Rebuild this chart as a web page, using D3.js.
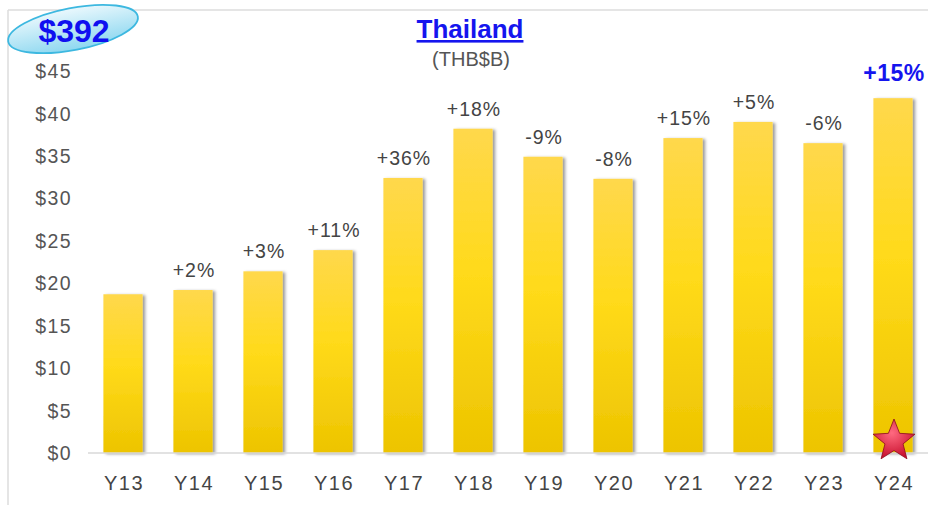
<!DOCTYPE html>
<html>
<head>
<meta charset="utf-8">
<script src="https://cdn.jsdelivr.net/npm/d3@7"></script>
<style>
  html, body { margin: 0; padding: 0; background: #fff; }
  svg { display: block; font-family: "Liberation Sans", Arial, sans-serif; }
</style>
</head>
<body>
<svg id="chart" width="928" height="505"></svg>
<script>
// Annual values, THB billions
const years = ["Y13","Y14","Y15","Y16","Y17","Y18","Y19","Y20","Y21","Y22","Y23","Y24"];
const values = [18.7, 19.2, 21.4, 23.9, 32.4, 38.2, 34.9, 32.3, 37.1, 39.0, 36.5, 41.8];
const growth = ["", "+2%", "+3%", "+11%", "+36%", "+18%", "-9%", "-8%", "+15%", "+5%", "-6%", "+15%"];
const yTicks = [0, 5, 10, 15, 20, 25, 30, 35, 40, 45];
const title = "Thailand";
const subtitle = "(THB$B)";
const totalLabel = "$392";

const svg = d3.select("#chart");
const W = 928, H = 505;
const FONT = "Liberation Sans, Arial, sans-serif";

const x = d3.scaleBand().domain(years).range([88, 928]).paddingInner(0.44).paddingOuter(0.22);
const y = d3.scaleLinear().domain([0, 45]).range([453, 71]);

const defs = svg.append("defs");

// bar fill: lighter gold at the top, deeper at the base
const bg = defs.append("linearGradient").attr("id", "barGrad").attr("x1", 0).attr("y1", 0).attr("x2", 0).attr("y2", 1);
bg.append("stop").attr("offset", "0%").attr("stop-color", "#FFD84C");
bg.append("stop").attr("offset", "45%").attr("stop-color", "#FFDA1A");
bg.append("stop").attr("offset", "100%").attr("stop-color", "#EDC400");

const sh = defs.append("filter").attr("id", "shadow").attr("x", "-20%").attr("y", "-5%").attr("width", "150%").attr("height", "115%");
sh.append("feDropShadow").attr("dx", 2.5).attr("dy", 1).attr("stdDeviation", 1.8).attr("flood-color", "#000").attr("flood-opacity", 0.4);

const eg = defs.append("linearGradient").attr("id", "ovalGrad").attr("x1", 0).attr("y1", 0).attr("x2", 0).attr("y2", 1);
eg.append("stop").attr("offset", "0%").attr("stop-color", "#EAF8FD");
eg.append("stop").attr("offset", "100%").attr("stop-color", "#8ED8F0");

const sg = defs.append("radialGradient").attr("id", "starGrad").attr("cx", "45%").attr("cy", "35%").attr("r", "65%");
sg.append("stop").attr("offset", "0%").attr("stop-color", "#FF6A80");
sg.append("stop").attr("offset", "100%").attr("stop-color", "#C8102E");

// frame lines
svg.append("line").attr("x1", 8).attr("x2", 8).attr("y1", 10).attr("y2", H).attr("stroke", "#dcdcdc").attr("stroke-width", 1.5);
svg.append("line").attr("x1", 8).attr("x2", W).attr("y1", 10).attr("y2", 10).attr("stroke", "#dcdcdc").attr("stroke-width", 1.5);

// y axis labels
const yAxis = d3.axisLeft(y).tickValues(yTicks).tickSize(0).tickPadding(0).tickFormat(d => "$" + d);
const ya = svg.append("g").attr("transform", "translate(72,0)").call(yAxis);
ya.select(".domain").remove();
ya.selectAll("text").attr("font-size", 19.5).attr("fill", "#555").attr("font-family", FONT)
  .attr("letter-spacing", 1.4).attr("dy", "0.34em");

// bars
svg.append("g").selectAll("rect").data(values).join("rect")
  .attr("x", (d, i) => x(years[i]))
  .attr("y", d => y(d))
  .attr("width", x.bandwidth())
  .attr("height", d => y(0) - y(d))
  .attr("fill", "url(#barGrad)")
  .attr("filter", "url(#shadow)");

// baseline
svg.append("line").attr("x1", 88).attr("x2", W).attr("y1", y(0)).attr("y2", y(0)).attr("stroke", "#d9d9d9").attr("stroke-width", 1.5);

// x axis labels
const xAxis = d3.axisBottom(x).tickSize(0).tickPadding(0);
const xa = svg.append("g").attr("transform", "translate(1,474)").call(xAxis);
xa.select(".domain").remove();
xa.selectAll("text").attr("font-size", 20).attr("fill", "#444").attr("font-family", FONT)
  .attr("letter-spacing", 1.5).attr("dy", "0.8em");

// growth labels
const last = years.length - 1;
svg.append("g").selectAll("text").data(growth).join("text")
  .attr("x", (d, i) => x(years[i]) + x.bandwidth() / 2 + 1)
  .attr("y", (d, i) => y(values[i]) - (i === last ? 17 : 13))
  .attr("text-anchor", "middle")
  .attr("font-size", (d, i) => i === last ? 23 : 19.5)
  .attr("font-weight", (d, i) => i === last ? "bold" : "normal")
  .attr("letter-spacing", (d, i) => i === last ? 0.5 : 1)
  .attr("fill", (d, i) => i === last ? "#1515EE" : "#444")
  .text(d => d);

// star on the latest year
const starPts = d3.range(10).map(k => {
  const r = k % 2 === 0 ? 22 : 9.5;
  const a = -Math.PI / 2 + k * Math.PI / 5;
  return [r * Math.cos(a), r * Math.sin(a)];
});
svg.append("path")
  .attr("d", d3.line()(starPts) + "Z")
  .attr("transform", `translate(${x(years[last]) + x.bandwidth() / 2 + 1},${y(0) - 12})`)
  .attr("fill", "url(#starGrad)")
  .attr("stroke", "#8a0a1e").attr("stroke-width", 0.8);

// title
svg.append("text").attr("x", 470).attr("y", 38).attr("text-anchor", "middle")
  .attr("font-size", 26).attr("font-weight", "bold").attr("fill", "#1515EE")
  .attr("text-decoration", "underline").text(title);
svg.append("text").attr("x", 471).attr("y", 66).attr("text-anchor", "middle")
  .attr("font-size", 20).attr("fill", "#555").text(subtitle);

// total badge
svg.append("ellipse").attr("cx", 73).attr("cy", 29).attr("rx", 66).attr("ry", 21)
  .attr("transform", "rotate(-11,73,29)")
  .attr("fill", "url(#ovalGrad)").attr("stroke", "#3DB8E0").attr("stroke-width", 1.8);
svg.append("text").attr("x", 74).attr("y", 42).attr("text-anchor", "middle")
  .attr("font-size", 32).attr("font-weight", "bold").attr("fill", "#1010F0").text(totalLabel);
</script>
</body>
</html>
